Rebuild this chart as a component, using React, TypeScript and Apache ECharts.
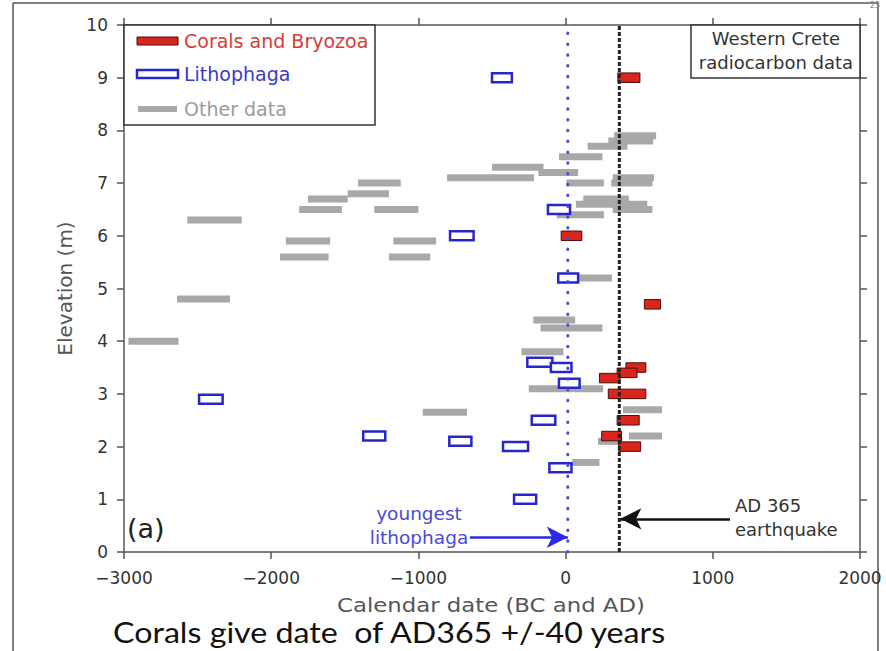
import React, { useEffect, useRef } from "react";
import * as echarts from "echarts";

// [start date, end date, elevation (m)]
const coralBars: number[][] = [
  [355, 505, 9.0],
  [-30, 110, 6.0],
  [535, 645, 4.7],
  [410, 545, 3.5],
  [350, 485, 3.4],
  [230, 370, 3.3],
  [290, 545, 3.0],
  [350, 500, 2.5],
  [245, 380, 2.2],
  [360, 510, 2.0],
];

const lithophagaBars: number[][] = [
  [-500, -365, 9.0],
  [-120, 30, 6.5],
  [-785, -625, 6.0],
  [-50, 85, 5.2],
  [-260, -90, 3.6],
  [-100, 40, 3.5],
  [-45, 95, 3.2],
  [-230, -70, 2.5],
  [-2490, -2330, 2.9],
  [-1375, -1225, 2.2],
  [-790, -640, 2.1],
  [-425, -255, 2.0],
  [-110, 40, 1.6],
  [-350, -200, 1.0],
];

const otherBars: number[][] = [
  [-2970, -2630, 4.0],
  [-2640, -2280, 4.8],
  [-2570, -2200, 6.3],
  [-1940, -1610, 5.6],
  [-1900, -1600, 5.9],
  [-1810, -1520, 6.5],
  [-1750, -1480, 6.7],
  [-1480, -1200, 6.8],
  [-1410, -1120, 7.0],
  [-1300, -1000, 6.5],
  [-1200, -920, 5.6],
  [-1170, -880, 5.9],
  [-970, -670, 2.65],
  [-805, -215, 7.1],
  [-500, -150, 7.3],
  [-185, 85, 7.2],
  [-45, 250, 7.5],
  [150, 420, 7.7],
  [290, 595, 7.8],
  [330, 615, 7.9],
  [5, 260, 7.0],
  [320, 600, 7.1],
  [310, 590, 7.0],
  [120, 430, 6.7],
  [70, 555, 6.6],
  [320, 590, 6.5],
  [-60, 260, 6.4],
  [20, 315, 5.2],
  [-220, 65, 4.4],
  [-170, 250, 4.25],
  [-300, -15, 3.8],
  [-250, 255, 3.1],
  [390, 655, 2.7],
  [430, 655, 2.2],
  [220, 385, 2.1],
  [45, 230, 1.7],
];

const youngestLithophaga = 15;
const earthquakeDate = 365;
const youngestArrow = [[-650, 0.28], [15, 0.28]];
const quakeArrow = [[1117, 0.63], [372, 0.63]];

const xMin = -3000;
const xMax = 2000;
const xStep = 1000;
const yMin = 0;
const yMax = 10;
const yStep = 1;

const FONT = "DejaVu Sans";

function makeRender(h: number, style: any) {
  return (params: any, api: any) => {
    const y = api.value(2);
    const p1 = api.coord([api.value(0), y]);
    const p2 = api.coord([api.value(1), y]);
    return {
      type: "rect",
      shape: { x: p1[0], y: p1[1] - h / 2, width: p2[0] - p1[0], height: h },
      style,
    };
  };
}

export default function App() {
  const ref = useRef<HTMLDivElement>(null);

  useEffect(() => {
    document.body.style.margin = "0";
    if (!ref.current) return;
    const chart = echarts.init(ref.current, null, { renderer: "svg" });
    const axisLineStyle = { color: "#555", width: 1.5 };
    const labelFmt = (v: number) => String(v).replace("-", "\u2212");

    const option: any = {
      animation: false,
      backgroundColor: "#fff",
      grid: { left: 124, right: 26, top: 25, bottom: 99, containLabel: false },
      xAxis: [
        {
          type: "value",
          min: xMin,
          max: xMax,
          interval: xStep,
          position: "bottom",
          axisLine: { show: true, onZero: false, lineStyle: axisLineStyle },
          axisTick: { show: true, inside: false, length: 7, lineStyle: axisLineStyle },
          axisLabel: { fontSize: 17, fontFamily: FONT, color: "#333", margin: 17, formatter: labelFmt },
          splitLine: { show: false },
        },
        {
          type: "value",
          min: xMin,
          max: xMax,
          interval: xStep,
          position: "top",
          axisLine: { show: true, onZero: false, lineStyle: axisLineStyle },
          axisTick: { show: true, inside: false, length: 7, lineStyle: axisLineStyle },
          axisLabel: { show: false },
          splitLine: { show: false },
        },
      ],
      yAxis: [
        {
          type: "value",
          min: yMin,
          max: yMax,
          interval: yStep,
          position: "left",
          axisLine: { show: true, onZero: false, lineStyle: axisLineStyle },
          axisTick: { show: true, inside: false, length: 7, lineStyle: axisLineStyle },
          axisLabel: { fontSize: 17, fontFamily: FONT, color: "#333", margin: 16 },
          splitLine: { show: false },
          name: "Elevation (m)",
          nameLocation: "middle",
          nameGap: 46,
          nameTextStyle: { fontSize: 20, fontFamily: FONT, color: "#555" },
        },
        {
          type: "value",
          min: yMin,
          max: yMax,
          interval: yStep,
          position: "right",
          axisLine: { show: true, onZero: false, lineStyle: axisLineStyle },
          axisTick: { show: true, inside: false, length: 7, lineStyle: axisLineStyle },
          axisLabel: { show: false },
          splitLine: { show: false },
        },
      ],
      series: [
        {
          type: "custom",
          name: "Other data",
          renderItem: makeRender(7, { fill: "#a8a8a8" }),
          encode: { x: [0, 1], y: 2 },
          data: otherBars,
          z: 2,
        },
        {
          type: "custom",
          name: "Lithophaga",
          renderItem: makeRender(9, { fill: "#ffffff", stroke: "#2626cc", lineWidth: 2.5 }),
          encode: { x: [0, 1], y: 2 },
          data: lithophagaBars,
          z: 3,
        },
        {
          type: "custom",
          name: "Corals and Bryozoa",
          renderItem: makeRender(9.5, { fill: "#d8261c", stroke: "#4a0c0c", lineWidth: 1 }),
          encode: { x: [0, 1], y: 2 },
          data: coralBars,
          z: 4,
        },
        {
          type: "line",
          data: [[youngestLithophaga, yMin], [youngestLithophaga, yMax]],
          symbol: "none",
          lineStyle: { color: "#4a4ad6", width: 3, type: [0.5, 10.3], cap: "round" },
          z: 5,
          silent: true,
          markLine: {
            silent: true,
            symbol: ["none", "arrow"],
            symbolSize: [16, 21],
            label: { show: false },
            data: [
              [
                { coord: youngestArrow[0], lineStyle: { color: "#2a2ae6", width: 2.5, type: "solid" } },
                { coord: youngestArrow[1] },
              ],
              [
                { coord: quakeArrow[0], lineStyle: { color: "#111", width: 2.5, type: "solid" } },
                { coord: quakeArrow[1] },
              ],
            ],
          },
        },
        {
          type: "line",
          data: [[earthquakeDate, yMin], [earthquakeDate, yMax]],
          symbol: "none",
          lineStyle: { color: "#222", width: 3, type: [4, 2] },
          z: 5,
          silent: true,
        },
      ],
      graphic: [
        // page frame
        { type: "line", shape: { x1: 13, y1: 3, x2: 13, y2: 651 }, style: { stroke: "#555", lineWidth: 1.5 } },
        { type: "line", shape: { x1: 13, y1: 3, x2: 878, y2: 3 }, style: { stroke: "#555", lineWidth: 1.5 } },
        { type: "line", shape: { x1: 878, y1: 3, x2: 878, y2: 651 }, style: { stroke: "#555", lineWidth: 1.5 } },
        { type: "text", x: 870, y: 1, style: { text: "23", fontSize: 8, fontFamily: FONT, fill: "#888" } },
        // legend box
        {
          type: "rect",
          shape: { x: 124, y: 25, width: 251, height: 100 },
          style: { fill: "#fff", stroke: "#333", lineWidth: 1.5 },
          z: 10,
        },
        { type: "rect", shape: { x: 137, y: 37, width: 41, height: 8 }, style: { fill: "#d8261c", stroke: "#4a0c0c", lineWidth: 1 }, z: 11 },
        { type: "rect", shape: { x: 137, y: 70, width: 41, height: 8 }, style: { fill: "#fff", stroke: "#2626cc", lineWidth: 2.5 }, z: 11 },
        { type: "rect", shape: { x: 138, y: 106, width: 39, height: 6 }, style: { fill: "#a8a8a8" }, z: 11 },
        { type: "text", x: 184, y: 41, z: 11, style: { text: "Corals and Bryozoa", fontSize: 19, fontFamily: FONT, fill: "#d63c38", textVerticalAlign: "middle" } },
        { type: "text", x: 184, y: 74, z: 11, style: { text: "Lithophaga", fontSize: 19, fontFamily: FONT, fill: "#3a3ac8", textVerticalAlign: "middle" } },
        { type: "text", x: 184, y: 109, z: 11, style: { text: "Other data", fontSize: 19, fontFamily: FONT, fill: "#9a9a9a", textVerticalAlign: "middle" } },
        // Western Crete box
        {
          type: "rect",
          shape: { x: 691, y: 25, width: 169, height: 53 },
          style: { fill: "#fff", stroke: "#333", lineWidth: 1.5 },
          z: 10,
        },
        { type: "text", x: 776, y: 38, z: 11, style: { text: "Western Crete", fontSize: 18, fontFamily: FONT, fill: "#333", textAlign: "center", textVerticalAlign: "middle" } },
        { type: "text", x: 776, y: 62, z: 11, style: { text: "radiocarbon data", fontSize: 18, fontFamily: FONT, fill: "#333", textAlign: "center", textVerticalAlign: "middle" } },
        // x axis title
        { type: "text", x: 491, y: 605, scaleX: 1.14, z: 11, style: { text: "Calendar date (BC and AD)", fontSize: 20, fontFamily: FONT, fill: "#555", textAlign: "center", textVerticalAlign: "middle" } },
        // annotations
        { type: "text", x: 127, y: 528, z: 11, style: { text: "(a)", fontSize: 27, fontFamily: FONT, fill: "#222", textVerticalAlign: "middle" } },
        { type: "text", x: 419, y: 513, z: 11, style: { text: "youngest", fontSize: 18.5, fontFamily: FONT, fill: "#4a4ad6", textAlign: "center", textVerticalAlign: "middle" } },
        { type: "text", x: 419, y: 537, z: 11, style: { text: "lithophaga", fontSize: 18.5, fontFamily: FONT, fill: "#4a4ad6", textAlign: "center", textVerticalAlign: "middle" } },
        { type: "text", x: 735, y: 505, z: 11, style: { text: "AD 365", fontSize: 18, fontFamily: FONT, fill: "#333", textVerticalAlign: "middle" } },
        { type: "text", x: 735, y: 529, z: 11, style: { text: "earthquake", fontSize: 18, fontFamily: FONT, fill: "#333", textVerticalAlign: "middle" } },
        // slide caption
        { type: "text", x: 113, y: 632, scaleX: 1.15, z: 11, style: { text: "Corals give date  of AD365 +/-40 years", fontSize: 28, fontFamily: "Lato", fill: "#111", textVerticalAlign: "middle" } },
      ],
    };
    chart.setOption(option);
    return () => chart.dispose();
  }, []);

  return <div ref={ref} style={{ width: 886, height: 651 }} />;
}
